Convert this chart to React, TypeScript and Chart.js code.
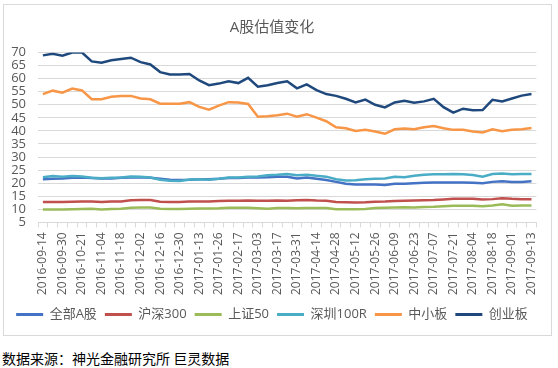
import React, { useEffect, useRef } from "react";
import { Chart, registerables } from "chart.js";

Chart.register(...registerables);

const dates: string[] = [
  "2016-09-14", "2016-09-23", "2016-09-30", "2016-10-14", "2016-10-21", "2016-10-28",
  "2016-11-04", "2016-11-11", "2016-11-18", "2016-11-25", "2016-12-02", "2016-12-09",
  "2016-12-16", "2016-12-23", "2016-12-30", "2017-01-06", "2017-01-13", "2017-01-20",
  "2017-01-26", "2017-02-10", "2017-02-17", "2017-02-24", "2017-03-03", "2017-03-10",
  "2017-03-17", "2017-03-24", "2017-03-31", "2017-04-07", "2017-04-14", "2017-04-21",
  "2017-04-28", "2017-05-05", "2017-05-12", "2017-05-19", "2017-05-26", "2017-06-02",
  "2017-06-09", "2017-06-16", "2017-06-23", "2017-06-30", "2017-07-07", "2017-07-14",
  "2017-07-21", "2017-07-28", "2017-08-04", "2017-08-11", "2017-08-18", "2017-08-25",
  "2017-09-01", "2017-09-08", "2017-09-13",
];

const allA: number[] = [
  21.5, 21.7, 21.8, 22.1, 22.2, 22.0, 21.8, 21.8, 22.1, 22.2, 22.3, 22.1, 21.7, 21.3, 21.2, 21.3, 21.5,
  21.5, 21.7, 22.0, 22.0, 22.2, 22.2, 22.3, 22.5, 22.5, 21.8, 22.2, 21.7, 21.2, 20.5, 19.8, 19.5,
  19.5, 19.5, 19.3, 19.8, 19.8, 20.0, 20.2, 20.3, 20.3, 20.3, 20.3, 20.2, 20.0, 20.5, 20.7, 20.5, 20.5, 20.7,
];

const hs300: number[] = [
  12.8, 12.8, 12.8, 12.9, 13.0, 13.0, 12.8, 13.0, 13.0, 13.5, 13.6, 13.6, 12.9, 12.8, 12.8, 13.0, 13.0,
  13.0, 13.2, 13.3, 13.3, 13.4, 13.3, 13.3, 13.4, 13.3, 13.5, 13.6, 13.4, 13.3, 12.8, 12.7, 12.6,
  12.7, 12.9, 13.0, 13.2, 13.3, 13.4, 13.5, 13.6, 13.8, 14.0, 14.0, 14.0, 13.8, 13.9, 14.2, 14.0, 13.9, 13.9,
];

const sz50: number[] = [
  9.9, 9.9, 9.9, 10.0, 10.1, 10.2, 9.9, 10.1, 10.2, 10.6, 10.7, 10.7, 10.2, 10.1, 10.1, 10.2, 10.3,
  10.3, 10.4, 10.6, 10.6, 10.6, 10.4, 10.2, 10.5, 10.5, 10.4, 10.5, 10.5, 10.5, 10.0, 10.0, 10.0,
  10.1, 10.5, 10.6, 10.7, 10.8, 10.7, 10.9, 11.0, 11.2, 11.4, 11.4, 11.4, 11.2, 11.5, 11.9, 11.4, 11.5, 11.5,
];

const sz100r: number[] = [
  22.3, 22.7, 22.5, 22.7, 22.6, 22.1, 21.9, 22.1, 22.2, 22.6, 22.5, 22.2, 21.3, 20.9, 20.8, 21.4, 21.5,
  21.3, 21.7, 22.2, 22.2, 22.5, 22.6, 23.0, 23.2, 23.5, 23.0, 23.2, 22.8, 22.5, 21.5, 21.0, 21.1,
  21.5, 21.7, 21.8, 22.5, 22.3, 22.8, 23.2, 23.4, 23.4, 23.5, 23.4, 23.1, 22.5, 23.5, 23.7, 23.4, 23.5, 23.5,
];

const smeBoard: number[] = [
  54.1, 55.4, 54.6, 56.2, 55.5, 52.1, 52.1, 53.1, 53.4, 53.4, 52.4, 52.1, 50.4, 50.4, 50.4, 51.0, 49.2,
  48.1, 49.7, 51.0, 50.9, 50.3, 45.4, 45.6, 46.0, 46.6, 45.4, 46.4, 45.1, 43.7, 41.4, 41.0, 40.0,
  40.4, 39.8, 38.9, 40.6, 40.9, 40.6, 41.4, 41.9, 41.0, 40.4, 40.4, 39.8, 39.4, 40.6, 39.9, 40.4, 40.6, 41.1,
];

const chinext: number[] = [
  68.9, 69.5, 68.8, 70.0, 70.0, 66.6, 66.1, 67.0, 67.5, 68.0, 66.3, 65.4, 62.5, 61.6, 61.6, 61.8, 59.3,
  57.5, 58.1, 59.0, 58.3, 60.3, 56.9, 57.5, 58.3, 59.0, 56.3, 57.8, 55.6, 54.1, 53.4, 52.3, 50.9,
  52.0, 50.0, 49.0, 50.9, 51.5, 50.8, 51.3, 52.3, 49.1, 47.0, 48.5, 47.9, 48.0, 51.9, 51.3, 52.4, 53.5, 54.1,
];

const seriesNames: string[] = ["全部A股", "沪深300", "上证50", "深圳100R", "中小板", "创业板"];
const seriesColors: string[] = ["#4472C4", "#C0504D", "#9BBB59", "#4BACC6", "#F79646", "#1F497D"];
const seriesData: number[][] = [allA, hs300, sz50, sz100r, smeBoard, chinext];

const FONT = "'Open Sans', 'Noto Sans CJK SC', sans-serif";
const GREY = "#595959";

export default function App() {
  const ref = useRef<HTMLCanvasElement | null>(null);

  useEffect(() => {
    if (!ref.current) return;
    const chart = new Chart(ref.current, {
      type: "line",
      data: {
        labels: dates,
        datasets: seriesData.map((d, i) => ({
          label: seriesNames[i],
          data: d,
          borderColor: seriesColors[i],
          backgroundColor: seriesColors[i],
          borderWidth: 2.5,
          pointRadius: 0,
          tension: 0,
          fill: false,
          order: 10 - i,
        })),
      },
      options: {
        responsive: false,
        animation: false,
        layout: { padding: { left: 0, right: 11, top: 0, bottom: 4 } },
        plugins: {
          tooltip: { enabled: false },
          title: {
            display: true,
            text: "A股估值变化",
            color: GREY,
            font: { family: FONT, size: 15, weight: "normal" },
            padding: { top: 14, bottom: 15.5 },
          },
          legend: {
            position: "bottom",
            labels: {
              color: GREY,
              font: { family: FONT, size: 13 },
              boxWidth: 27,
              boxHeight: 3,
              padding: 8,
              generateLabels: (c: any) =>
                (Chart.defaults.plugins.legend.labels as any)
                  .generateLabels(c)
                  .map((l: any) => ({ ...l, lineWidth: 0 }))
                  .sort((a: any, b: any) => a.datasetIndex - b.datasetIndex),
            },
          },
        },
        scales: {
          x: {
            offset: true,
            grid: {
              offset: true,
              drawOnChartArea: false,
              drawTicks: true,
              tickLength: 5,
              color: "#D9D9D9",
            },
            border: { display: true, color: "#D9D9D9", width: 1 },
            ticks: {
              autoSkip: false,
              minRotation: 90,
              maxRotation: 90,
              padding: 5,
              color: GREY,
              font: { family: FONT, size: 12 },
              callback: (_v: any, i: number) => (i % 2 === 0 ? dates[i] : ""),
            },
          },
          y: {
            min: 5,
            max: 70,
            afterFit: (s: any) => {
              s.width = 34;
            },
            grid: { color: "#D9D9D9", drawTicks: false },
            border: { display: false },
            ticks: {
              stepSize: 5,
              autoSkip: false,
              padding: 12,
              color: GREY,
              font: { family: FONT, size: 13 },
            },
          },
        },
      },
    });
    return () => chart.destroy();
  }, []);

  return (
    <div style={{ position: "fixed", left: 0, top: 0, width: 558, height: 368, background: "#fff" }}>
      <div
        style={{
          position: "absolute",
          left: 3,
          top: 4,
          width: 549,
          height: 332,
          border: "1px solid #D9D9D9",
          boxSizing: "border-box",
        }}
      />
      <canvas ref={ref} width={547} height={330} style={{ position: "absolute", left: 4, top: 5 }} />
      <div
        style={{
          position: "absolute",
          left: 2,
          top: 348,
          fontFamily: "'Noto Sans CJK SC', sans-serif",
          fontSize: 14,
          lineHeight: "20px",
          color: "#000",
          whiteSpace: "nowrap",
        }}
      >
        数据来源：神光金融研究所 巨灵数据
      </div>
    </div>
  );
}
